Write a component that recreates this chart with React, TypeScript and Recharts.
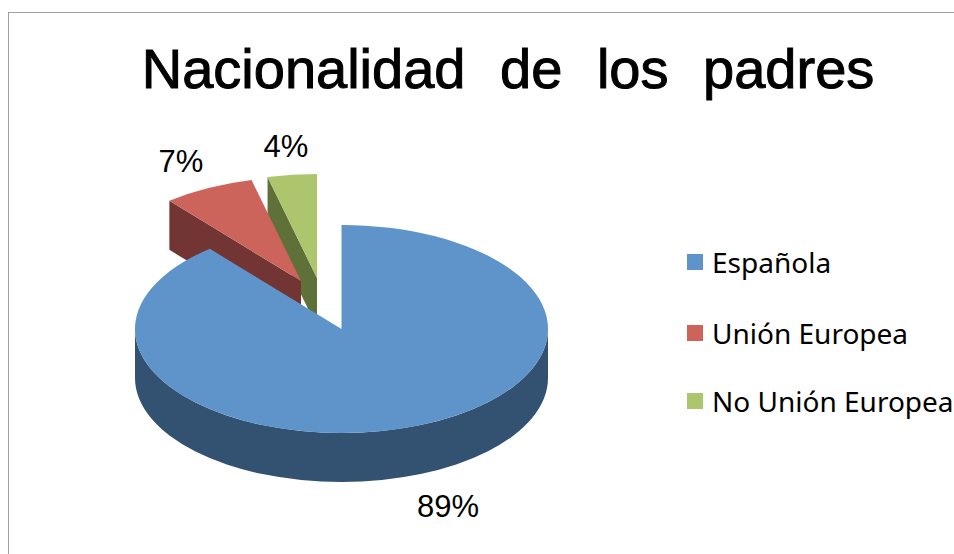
import { PieChart, Pie, Legend } from 'recharts';

const categories = ['Española', 'Unión Europea', 'No Unión Europea'];
const shares = [89, 7.15, 3.85];

const topColors = ['#5f94cb', '#cc645c', '#adc66d'];
const wallColors = ['#335272', '#733533', '#5f7038'];

const CX = 341.5;
const CY = 329;
const RADIUS = 206.5;
const SQUASH = 104 / 206.5;
const DEPTH = 49;

// how far each slice is pulled away from the middle
const explode: Record<string, [number, number]> = {
  'Unión Europea': [-40.5, -48],
  'No Unión Europea': [-24.5, -51],
};

// label baselines
const labelAt: Record<string, [number, number]> = {
  'Española': [448, 517],
  'Unión Europea': [181, 172],
  'No Unión Europea': [286, 157],
};

const legendTops = [254, 325, 393];

// drawn back to front so the big slice covers the walls of the pulled out ones
const pieData = categories
  .map((name, i) => ({ name, value: shares[i], top: topColors[i], wall: wallColors[i] }))
  .reverse();

const rad = (deg: number) => (deg * Math.PI) / 180;

function Slice3D(props: any) {
  const { startAngle, endAngle, outerRadius, cx, cy, payload } = props;
  const entry = payload?.payload ?? payload;
  const name = props.name ?? entry.name;
  const [dx, dy] = explode[name] ?? [0, 0];
  const ox = cx + dx;
  const oy = cy + dy;
  const rx = outerRadius;
  const ry = outerRadius * SQUASH;
  const px = (a: number) => ox + rx * Math.cos(rad(a));
  const py = (a: number) => oy - ry * Math.sin(rad(a));
  const large = endAngle - startAngle > 180 ? 1 : 0;

  const face = `M${ox},${oy} L${px(startAngle)},${py(startAngle)} A${rx},${ry} 0 ${large} 0 ${px(endAngle)},${py(endAngle)} Z`;

  // cut side of the slice, only when it looks towards the viewer
  const showsCut = endAngle > 90 && endAngle < 270;
  const cut = `M${ox},${oy} L${px(endAngle)},${py(endAngle)} v${DEPTH} L${ox},${oy + DEPTH} Z`;

  // round side, the front half only
  const from = Math.max(startAngle, 180);
  const to = Math.min(endAngle, 360);
  const showsRim = to > from;
  const rim = `M${px(from)},${py(from)} A${rx},${ry} 0 0 0 ${px(to)},${py(to)} v${DEPTH} A${rx},${ry} 0 0 1 ${px(from)},${py(from) + DEPTH} Z`;

  const wall = props.wall ?? entry.wall;
  const top = props.top ?? entry.top;
  return (
    <g>
      {showsCut && <path d={cut} fill={wall} />}
      {showsRim && <path d={rim} fill={wall} />}
      <path d={face} fill={top} />
    </g>
  );
}

function renderLabel(props: any) {
  const [x, y] = labelAt[props.name];
  return (
    <text x={x} y={y} textAnchor="middle" fontSize={31} fontFamily="'Liberation Sans', Arial, sans-serif" fill="#000">
      {Math.round(props.value)}%
    </text>
  );
}

function LegendBox() {
  return (
    <div style={{ position: 'relative', width: 954, height: 554 }}>
      {categories.map((name, i) => (
        <div key={name}>
          <div style={{ position: 'absolute', left: 687, top: legendTops[i], width: 16, height: 16, background: topColors[i] }} />
          <div
            style={{
              position: 'absolute',
              left: 712,
              top: legendTops[i] - 11,
              lineHeight: '38px',
              fontSize: 28,
              fontFamily: "'Noto Sans', sans-serif",
              whiteSpace: 'nowrap',
              color: '#000',
            }}
          >
            {name}
          </div>
        </div>
      ))}
    </div>
  );
}

export default function App() {
  return (
    <div style={{ position: 'fixed', left: 0, top: 0, width: 954, height: 554, background: '#fff', overflow: 'hidden' }}>
      <div style={{ position: 'absolute', left: 8, top: 12, width: 960, height: 560, borderTop: '1px solid #a0a0a0', borderLeft: '1px solid #a0a0a0' }} />
      <div style={{ position: 'absolute', left: 0, top: 0 }}>
        <PieChart width={954} height={554} margin={{ top: 0, right: 0, bottom: 0, left: 0 }}>
          <text
            x={508}
            y={88}
            textAnchor="middle"
            fontSize={56}
            fontFamily="'Liberation Sans', Arial, sans-serif"
            fill="#000"
            stroke="#000"
            strokeWidth={1}
            style={{ wordSpacing: 19 }}
          >
            Nacionalidad de los padres
          </text>
          <Pie
            data={pieData}
            dataKey="value"
            nameKey="name"
            cx={CX}
            cy={CY}
            innerRadius={0}
            outerRadius={RADIUS}
            startAngle={90}
            endAngle={450}
            stroke="none"
            label={renderLabel}
            labelLine={false}
            shape={Slice3D}
            isAnimationActive={false}
          />
          <Legend content={<LegendBox />} wrapperStyle={{ left: 0, top: 0, width: 954, height: 554 }} />
        </PieChart>
      </div>
    </div>
  );
}
